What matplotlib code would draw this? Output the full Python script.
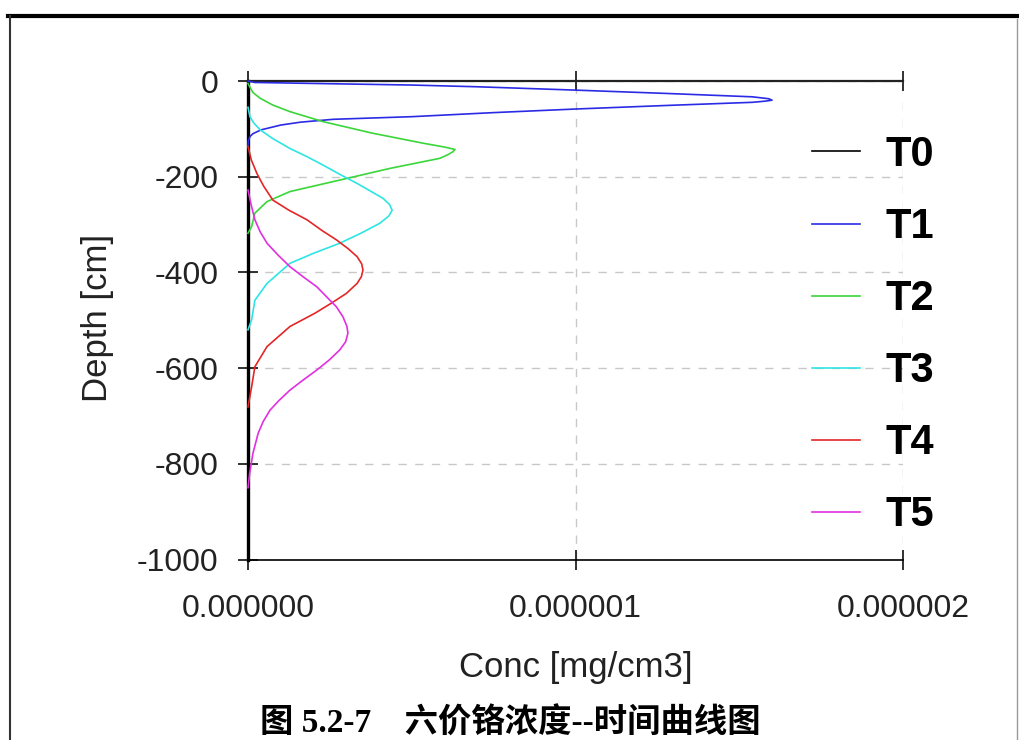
import numpy as np
import matplotlib
matplotlib.use('Agg')
import matplotlib.pyplot as plt
from matplotlib.lines import Line2D
from matplotlib.ticker import FormatStrFormatter

plt.rcParams['font.family'] = ['Liberation Sans', 'DejaVu Sans']
plt.rcParams['axes.unicode_minus'] = False

# depth [cm] / concentration [1e-6 mg/cm3]
labels = ['T0', 'T1', 'T2', 'T3', 'T4', 'T5']

t0_depth = [0, -1000]
t0_conc = [0, 0]

t1_depth = [0, -3, -5.5, -8.4, -12, -19, -26, -33, -37, -40, -42, -44.5, -51,
            -58.5, -66, -74.5, -80, -86, -92, -102, -110, -116, -125, -135]
t1_conc = [0, 0.02, 0.24, 0.50, 0.70, 1.00, 1.28, 1.54, 1.59, 1.60, 1.58, 1.54,
           1.28, 1.00, 0.75, 0.50, 0.26, 0.16, 0.10, 0.04, 0.015, 0.006, 0.001, 0]

t2_depth = [-5, -12, -24, -36, -50, -64, -85, -109, -130, -138, -143, -148,
            -154, -161.5, -182.5, -207, -231, -252, -276, -304, -318]
t2_conc = [0, 0.005, 0.015, 0.037, 0.075, 0.128, 0.23, 0.38, 0.535, 0.60,
           0.632, 0.625, 0.61, 0.586, 0.434, 0.28, 0.128, 0.058, 0.021, 0.011, 0]

t3_depth = [-55, -75, -88, -102, -120, -141, -158, -176, -195, -214, -245, -258,
            -270, -282, -297, -318, -339, -360, -381, -423, -458, -499, -520]
t3_conc = [0, 0.006, 0.018, 0.037, 0.075, 0.128, 0.18, 0.23, 0.28, 0.333,
           0.412, 0.432, 0.44, 0.43, 0.403, 0.345, 0.28, 0.20, 0.128, 0.058,
           0.021, 0.011, 0]

t4_depth = [-137, -165, -193, -220, -249, -270, -290, -312, -332, -350, -367,
            -382, -395, -409, -423, -444, -464, -485, -513, -555, -597, -639, -681]
t4_conc = [0, 0.01, 0.027, 0.048, 0.076, 0.125, 0.18, 0.225, 0.27, 0.305, 0.333,
           0.347, 0.351, 0.346, 0.333, 0.30, 0.255, 0.205, 0.128, 0.058, 0.021,
           0.011, 0]

t5_depth = [-228, -260, -290, -315, -339, -364, -388, -410, -430, -451, -472,
            -493, -513, -527, -545, -562, -583, -604, -625, -646, -668, -688,
            -712, -736, -778, -820, -850]
t5_conc = [0, 0.01, 0.021, 0.037, 0.058, 0.092, 0.128, 0.17, 0.21, 0.24, 0.27,
           0.29, 0.302, 0.305, 0.298, 0.28, 0.248, 0.21, 0.168, 0.128, 0.094,
           0.067, 0.046, 0.031, 0.015, 0.005, 0]

x_ticks = [0, 1e-6, 2e-6]
y_ticks = [0, -200, -400, -600, -800, -1000]

series = [(t0_depth, t0_conc, 'black'),
          (t1_depth, t1_conc, '#2b2be6'),
          (t2_depth, t2_conc, '#3ad63a'),
          (t3_depth, t3_conc, '#2ee4e4'),
          (t4_depth, t4_conc, '#e42626'),
          (t5_depth, t5_conc, '#e030e0')]

fig = plt.figure(figsize=(10.19, 7.40), dpi=100)
ax = fig.add_axes([0.2434, 0.2439, 0.6428, 0.6466])

for (d, c, col), lab in zip(series, labels):
    ax.plot(np.array(c) * 1e-6, d, color=col, linewidth=1.2, label=lab,
            clip_on=False, zorder=3, solid_joinstyle='round')

ax.set_xlim(0, 2e-6)
ax.set_ylim(-1000, 0)
ax.set_xticks(x_ticks)
ax.set_yticks(y_ticks)
ax.xaxis.set_major_formatter(FormatStrFormatter('%.6f'))
ax.tick_params(axis='both', direction='inout', length=15, width=1.3,
               labelsize=23, labelcolor='#222222', color='#222222')
ax.tick_params(axis='x', pad=17, top=True)
ax.tick_params(axis='y', pad=14)

ax.grid(True, color='#c8c8c8', linestyle=(0, (6, 6)), linewidth=1.0)
ax.spines['right'].set_visible(False)
ax.spines['left'].set_linewidth(2.4)
ax.spines['top'].set_linewidth(1.6)
ax.spines['top'].set_color('#222222')
ax.spines['bottom'].set_linewidth(1.2)

ax.set_xlabel('Conc [mg/cm3]', fontsize=25, color='#222222', va='center')
ax.xaxis.set_label_coords(0.5, -0.2247)
ax.set_ylabel('Depth [cm]', fontsize=25, color='#222222', va='center')
ax.yaxis.set_label_coords(-0.23, 0.505)

leg = ax.legend(loc='upper left', bbox_to_anchor=(0.797, 0.8175),
                bbox_transform=fig.transFigure, frameon=False,
                prop={'size': 30, 'weight': 'bold'}, handlelength=1.15,
                handletextpad=0.6, labelspacing=0.77, borderpad=0,
                borderaxespad=0)

# page frame around the figure
fig.add_artist(Line2D([0.008, 1.0], [0.978, 0.978], transform=fig.transFigure,
                      color='black', linewidth=3))
fig.add_artist(Line2D([0.0095, 0.0095], [0.0, 0.978], transform=fig.transFigure,
                      color='#333333', linewidth=1.5))
fig.add_artist(Line2D([0.998, 0.998], [0.0, 0.975], transform=fig.transFigure,
                      color='#999999', linewidth=1.0))

fig.text(0.5005, 0.0216, '图 5.2-7\u3000六价铬浓度--时间曲线图', ha='center',
         va='center', fontsize=24, fontweight='bold',
         family=['Liberation Serif', 'Noto Sans CJK SC'])

fig.savefig('out.png', dpi=100)
